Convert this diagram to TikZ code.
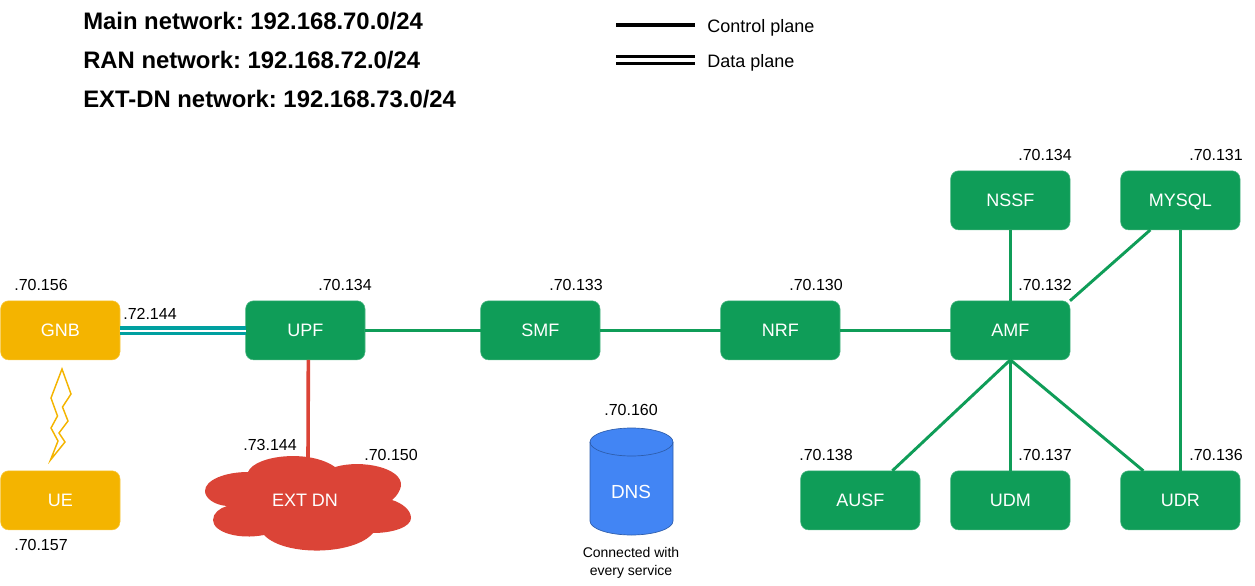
\documentclass[tikz,border=0pt]{standalone}
\usepackage{fontspec}
\setmainfont{Liberation Sans}
\usetikzlibrary{calc}
\definecolor{gr}{HTML}{0F9D58}
\definecolor{yl}{HTML}{F4B400}
\definecolor{rd}{HTML}{DB4437}
\definecolor{bl}{HTML}{4285F4}
\definecolor{tl}{HTML}{00A0A0}
\tikzset{
  x=0.75pt,y=-0.75pt,
  svc/.style={rectangle,rounded corners=6pt,minimum width=89.5pt,minimum height=44.3pt,inner sep=0pt,outer sep=0pt,text=white,font=\fontsize{13.5}{16}\selectfont,line width=.4pt,text height=9.7pt,text depth=0pt,xshift=.25pt,yshift=-.25pt},
  greenbox/.style={svc,fill=gr,draw=gr!75!white},
  yellowbox/.style={svc,fill=yl,draw=yl!75!white},
  iplabel/.style={font=\fontsize{12}{14}\selectfont,inner sep=0pt,text=black},
  titlelabel/.style={font=\fontsize{17.9}{20}\selectfont\bfseries\frenchspacing,inner sep=0pt,anchor=west},
  legendlabel/.style={font=\fontsize{13.5}{16}\selectfont,inner sep=0pt,anchor=west},
  ctrl/.style={draw=gr,line width=2.5pt},
  diag/.style={draw=gr,line width=2.2pt},
  legendline/.style={draw=black,line width=2.5pt},
  legenddouble/.style={draw=black,line width=1.9pt,double=white,double distance=3.2pt},
  datal/.style={draw=tl,line width=2.5pt,double=white,double distance=1.8pt},
  extl/.style={draw=rd,line width=2.7pt},
}
\begin{document}
\begin{tikzpicture}
\useasboundingbox (0,0) rectangle (1255,585);
% titles
\node[titlelabel] (t1) at (83,21) {Main network: 192.168.70.0/24};
\node[titlelabel] (t2) at (83,60) {RAN network: 192.168.72.0/24};
\node[titlelabel] (t3) at (83,99) {EXT-DN network: 192.168.73.0/24};
% legend
\coordinate (la) at (616,25); \coordinate (lb) at (695,25);
\coordinate (lc) at (616,60); \coordinate (ld) at (695,60);
\draw[legendline] (la) -- (lb);
\draw[legenddouble] (lc) -- (ld);
\node[legendlabel] (l1) at (707,28) {Control plane};
\node[legendlabel] (l2) at (707,63) {Data plane};
% cloud
\fill[rd] (248,472)
  .. controls (255,455) and (310,449) .. (335,467)
  .. controls (362,459) and (403,468) .. (401,486)
  .. controls (400,491) and (397,496) .. (392,500)
  .. controls (402,503) and (411,510) .. (411,518)
  .. controls (411,527) and (393,533) .. (373,533)
  .. controls (355,555) and (285,557) .. (264,535)
  .. controls (238,540) and (213,532) .. (213,520)
  .. controls (213,513) and (220,508) .. (227,506)
  .. controls (214,505) and (205,498) .. (205,491)
  .. controls (205,480) and (225,472) .. (248,472) -- cycle;
\coordinate (cloudtop) at (308,460);
\node[text=white,font=\fontsize{13.5}{16}\selectfont,inner sep=0pt] (extdn) at (305,500) {EXT DN};
% boxes
\node[yellowbox] (gnb) at (60,330) {GNB};
\node[yellowbox] (ue) at (60,500) {UE};
\node[greenbox] (upf) at (305,330) {UPF};
\node[greenbox] (smf) at (540,330) {SMF};
\node[greenbox] (nrf) at (780,330) {NRF};
\node[greenbox] (amf) at (1010,330) {AMF};
\node[greenbox] (nssf) at (1010,200) {NSSF};
\node[greenbox] (mysql) at (1180,200) {MYSQL};
\node[greenbox] (ausf) at (860,500) {AUSF};
\node[greenbox] (udm) at (1010,500) {UDM};
\node[greenbox] (udr) at (1180,500) {UDR};
% connectors
\draw[datal] (gnb.east) ++(0,0.5) -- ($(upf.west)+(0,0.5)$);
\draw[extl] ([xshift=2.25pt]upf.south) -- (cloudtop);
\draw[ctrl] (upf) -- (smf);
\draw[ctrl] (smf) -- (nrf);
\draw[ctrl] (nrf) -- (amf);
\draw[ctrl] (nssf) -- (amf);
\draw[diag] ([xshift=-22.5pt]mysql.south) -- (amf.north east);
\draw[ctrl] (mysql) -- (udr);
\draw[diag] (amf.south) -- ([xshift=24pt]ausf.north);
\draw[ctrl] (amf.south) -- (udm.north);
\draw[diag] (amf.south) -- ([xshift=-27.75pt]udr.north);
% lightning
\draw[yl,line width=1.1pt,line join=miter] (62,369) -- (71,394) -- (62.5,407) -- (68,421) -- (59,433) -- (65,442) -- (50.5,460) -- (58,441) -- (51,428) -- (57.5,416) -- (51,398) -- cycle;
% database
\draw[fill=bl,draw=bl!70!black,line width=.5pt] (590,442) -- (590,521) arc[start angle=180,end angle=360,x radius=41.5,y radius=-14] -- (673,442) arc[start angle=0,end angle=180,x radius=41.5,y radius=-14] -- cycle;
\draw[draw=bl!70!black,line width=.5pt] (590,442) arc[start angle=180,end angle=360,x radius=41.5,y radius=-14];
\node[text=white,font=\fontsize{14.2}{16}\selectfont,inner sep=0pt] (dns) at (631,492) {DNS};
\node[align=center,font=\fontsize{10.5}{13.5}\selectfont,inner sep=0pt] (dnsnote) at (631,562.5) {Connected with\\every service};
% address labels
\node[iplabel] (a1) at (41,285) {.70.156};
\node[iplabel] (a2) at (41,545) {.70.157};
\node[iplabel] (a3) at (150,314) {.72.144};
\node[iplabel] (a4) at (345,285) {.70.134};
\node[iplabel] (a5) at (576,285) {.70.133};
\node[iplabel] (a6) at (816,285) {.70.130};
\node[iplabel] (a7) at (1045,285) {.70.132};
\node[iplabel] (a8) at (1045,155) {.70.134};
\node[iplabel] (a9) at (1216,155) {.70.131};
\node[iplabel] (a10) at (270,445) {.73.144};
\node[iplabel] (a11) at (391,455) {.70.150};
\node[iplabel] (a12) at (631,410) {.70.160};
\node[iplabel] (a13) at (826,455) {.70.138};
\node[iplabel] (a14) at (1045,455) {.70.137};
\node[iplabel] (a15) at (1216,455) {.70.136};
\end{tikzpicture}
\end{document}
